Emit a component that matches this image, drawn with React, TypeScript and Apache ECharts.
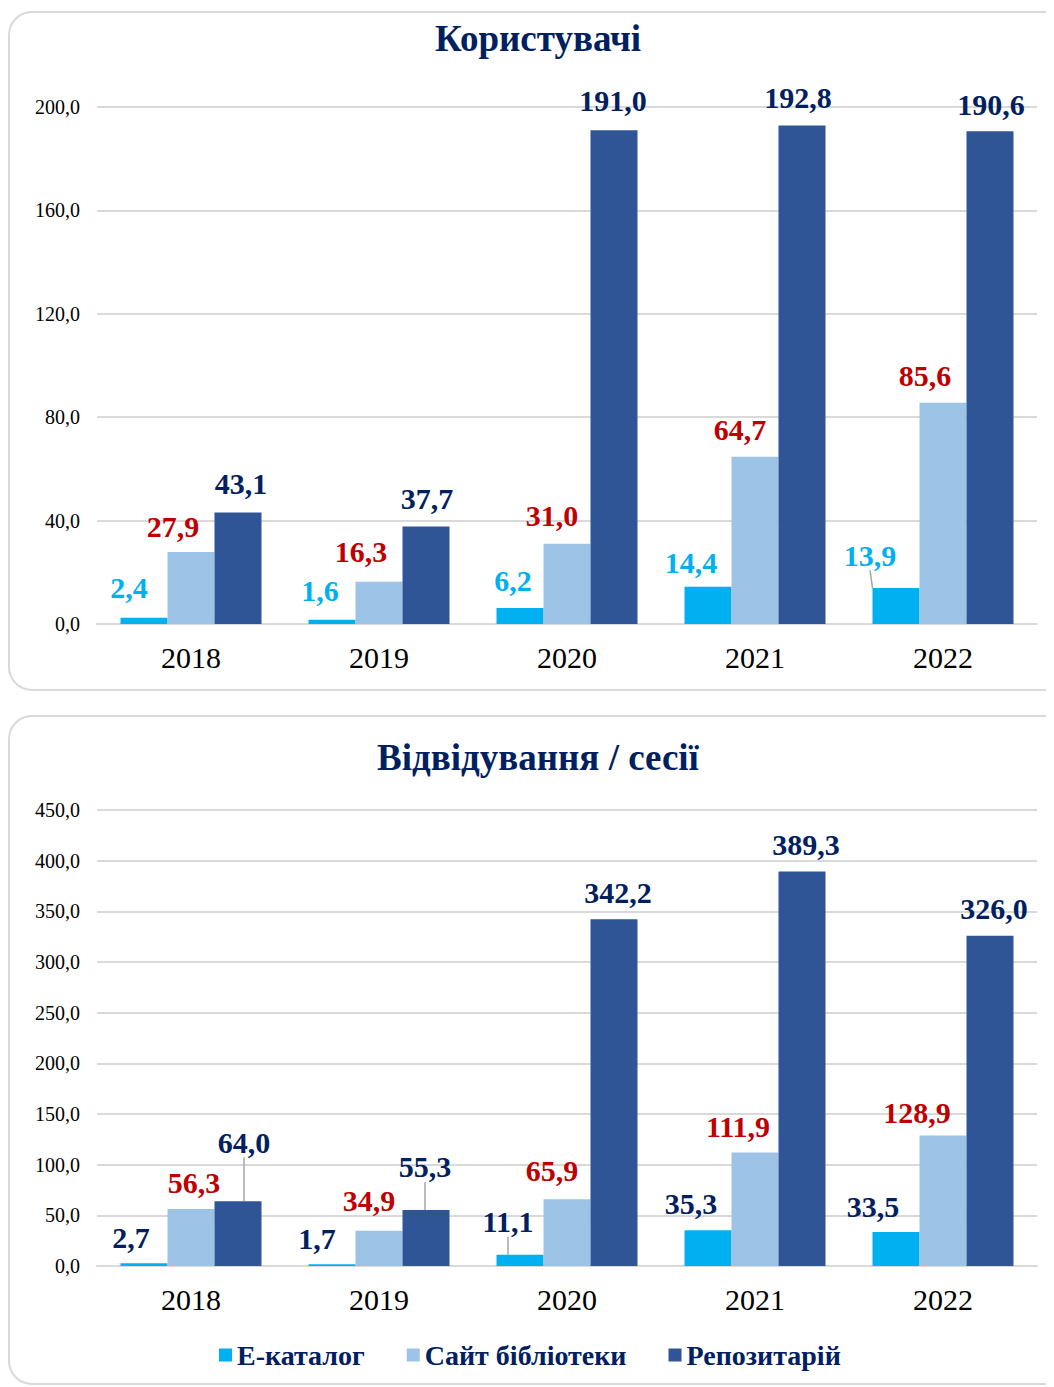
import React, { useEffect, useRef } from "react";
import * as echarts from "echarts";

const years = ["2018", "2019", "2020", "2021", "2022"];
const seriesNames = ["Е-каталог", "Сайт бібліотеки", "Репозитарій"];
const titles = ["Користувачі", "Відвідування / сесії"];

const usersCatalog = [2.4, 1.6, 6.2, 14.4, 13.9];
const usersSite = [27.9, 16.3, 31.0, 64.7, 85.6];
const usersRepo = [43.1, 37.7, 191.0, 192.8, 190.6];

const visitsCatalog = [2.7, 1.7, 11.1, 35.3, 33.5];
const visitsSite = [56.3, 34.9, 65.9, 111.9, 128.9];
const visitsRepo = [64.0, 55.3, 342.2, 389.3, 326.0];

const usersTicks = { max: 200, interval: 40 };
const visitsTicks = { max: 450, interval: 50 };

// label placement (style): [dx, dy] per bar
const usersLabelShift = [
  [[-15, -15], [-12, -14], [-7, -12], [-17, -9], [-26, -18]],
  [[-18, -10], [-18, -15], [-15, -13], [-15, -12], [-18, -12]],
  [[3, -14], [1, -13], [-1, -15], [-4, -13], [1, -12]],
];
const visitsLabelShift = [
  [[-13, -11], [-15, -11], [-12, -18], [-17, -12], [-23, -11]],
  [[3, -11], [-10, -15], [-15, -14], [-17, -11], [-26, -8]],
  [[6, -44], [-1, -28], [4, -12], [4, -12], [4, -12]],
];
const usersLeader = [
  [false, false, false, false, true],
  [false, false, false, false, false],
  [false, false, false, false, false],
];
const visitsLeader = [
  [false, false, true, false, false],
  [false, false, false, false, false],
  [true, true, false, false, false],
];

const FONT = '"Liberation Serif", "Times New Roman", serif';
const barColors = ["#00b0f0", "#9dc3e6", "#2f5597"];
const navy = "#002060";

const fmt = (v: number) => v.toFixed(1).replace(".", ",");

function makeSeries(
  gridIdx: number,
  values: number[][],
  shifts: number[][][],
  leaders: boolean[][],
  labelColors: string[]
) {
  return values.map((vals, si) => ({
    name: seriesNames[si],
    type: "bar",
    xAxisIndex: gridIdx,
    yAxisIndex: gridIdx,
    barGap: "0%",
    barCategoryGap: "25%",
    itemStyle: { color: barColors[si] },
    label: {
      show: true,
      position: "top",
      distance: 0,
      fontFamily: FONT,
      fontWeight: "bold",
      fontSize: 30,
      color: labelColors[si],
      formatter: (p: any) => fmt(p.value),
    },
    labelLine: { show: false, lineStyle: { color: "#a6a6a6", width: 1.5 } },
    labelLayout: (p: any) => {
      const s = shifts[si][p.dataIndex];
      return { dx: s[0], dy: s[1] };
    },
    data: vals.map((v, di) => ({
      value: v,
      labelLine: {
        show: leaders[si][di],
        lineStyle: { color: "#a6a6a6", width: 1.5 },
      },
    })),
  }));
}

export default function App() {
  const ref = useRef<HTMLDivElement>(null);
  useEffect(() => {
    if (!ref.current) return;
    const chart = echarts.init(ref.current, null, { renderer: "svg" });
    const xAxisBase = {
      type: "category",
      data: years,
      axisTick: { show: false },
      axisLine: { lineStyle: { color: "#d9d9d9", width: 2 } },
      axisLabel: { fontFamily: FONT, fontSize: 30, color: "#000", margin: 18 },
    };
    const yAxisBase = {
      type: "value",
      min: 0,
      axisLine: { show: false },
      axisTick: { show: false },
      splitLine: { lineStyle: { color: "#d9d9d9", width: 2 } },
      axisLabel: {
        fontFamily: FONT,
        fontSize: 20,
        color: "#000",
        margin: 17,
        formatter: (v: number) => fmt(v),
      },
    };
    chart.setOption({
      animation: false,
      backgroundColor: "transparent",
      title: titles.map((t, i) => ({
        text: t,
        left: 525,
        top: i === 0 ? 7 : 726,
        textAlign: "center",
        textStyle: { fontFamily: FONT, fontSize: 37, fontWeight: "bold", color: navy },
      })),
      legend: {
        data: seriesNames,
        left: 206,
        top: 1328,
        icon: "rect",
        itemWidth: 13,
        itemHeight: 13,
        itemGap: 42,
        textStyle: {
          fontFamily: FONT,
          fontSize: 28,
          fontWeight: "bold",
          color: navy,
        },
      },
      grid: [
        { left: 89, top: 99, width: 940, height: 517 },
        { left: 89, top: 802, width: 940, height: 456 },
      ],
      xAxis: [
        { ...xAxisBase, gridIndex: 0 },
        { ...xAxisBase, gridIndex: 1 },
      ],
      yAxis: [
        { ...yAxisBase, gridIndex: 0, max: usersTicks.max, interval: usersTicks.interval },
        { ...yAxisBase, gridIndex: 1, max: visitsTicks.max, interval: visitsTicks.interval },
      ],
      series: [
        ...makeSeries(0, [usersCatalog, usersSite, usersRepo], usersLabelShift, usersLeader, [
          "#00b0f0",
          "#c00000",
          navy,
        ]),
        ...makeSeries(1, [visitsCatalog, visitsSite, visitsRepo], visitsLabelShift, visitsLeader, [
          navy,
          "#c00000",
          navy,
        ]),
      ],
    });
    return () => chart.dispose();
  }, []);

  const panel = (top: number, height: number): React.CSSProperties => ({
    position: "absolute",
    left: 0,
    top,
    width: 1062,
    height,
    border: "2px solid #d9d9d9",
    borderRadius: 24,
    boxSizing: "border-box",
    background: "#fff",
  });

  return (
    <div style={{ position: "relative", width: 1046, height: 1379, overflow: "hidden" }}>
      <div style={panel(3, 680)} />
      <div style={panel(707, 670)} />
      <div ref={ref} style={{ position: "absolute", left: 0, top: 0, width: 1046, height: 1379 }} />
    </div>
  );
}
